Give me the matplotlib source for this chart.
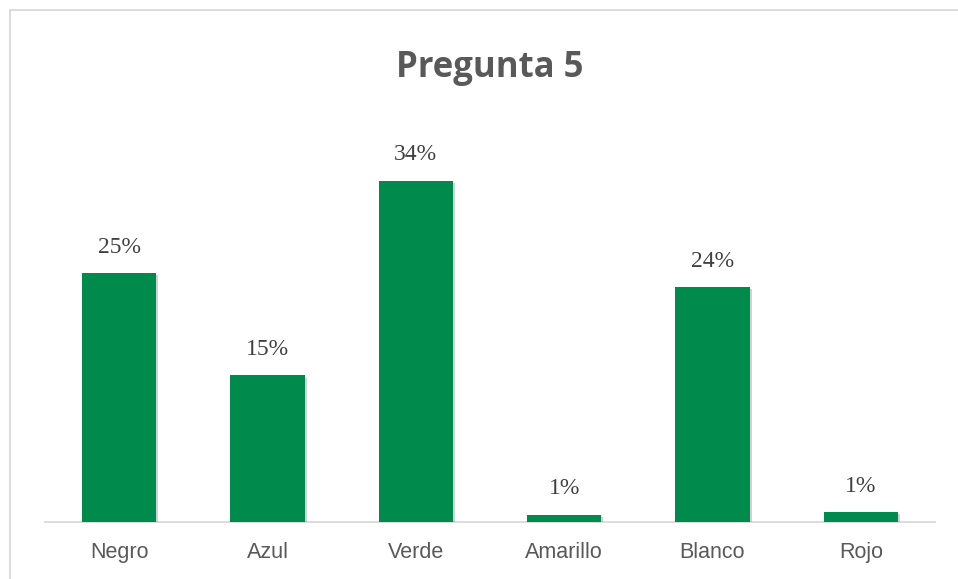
import matplotlib
matplotlib.use("Agg")
import matplotlib.pyplot as plt
import matplotlib.patheffects as pe
from matplotlib.lines import Line2D

categories = ["Negro", "Azul", "Verde", "Amarillo", "Blanco", "Rojo"]
values = [25.0, 14.7, 34.3, 0.7, 23.6, 0.95]
labels = ["25%", "15%", "34%", "1%", "24%", "1%"]
title = "Pregunta 5"

W, H = 958, 579
fig = plt.figure(figsize=(W / 100, H / 100), dpi=100)
fig.patch.set_facecolor("white")

# outer chart frame (top and left visible)
fc = "#d9d9d9"
fig.add_artist(Line2D([9.5 / W, 1.0], [1 - 9.5 / H, 1 - 9.5 / H], color=fc, lw=1.3, transform=fig.transFigure))
fig.add_artist(Line2D([9.5 / W, 9.5 / W], [0.0, 1 - 9.5 / H], color=fc, lw=1.3, transform=fig.transFigure))

left, right = 45 / W, 935 / W
bottom, top = (H - 521.5) / H, (H - 124) / H
ax = fig.add_axes([left, bottom, right - left, top - bottom])
ax.set_facecolor("none")

x = range(len(categories))
bars = ax.bar(x, values, width=0.5, color="#008B4D", zorder=3)
for b in bars:
    b.set_path_effects([pe.SimplePatchShadow(offset=(1.5, -1.5), shadow_rgbFace="#7f7f7f", alpha=0.35), pe.Normal()])

ax.set_xlim(-0.5, len(categories) - 0.5)
ax.set_ylim(0, 40)
ax.set_yticks([])
for s in ["top", "right", "left"]:
    ax.spines[s].set_visible(False)
ax.spines["bottom"].set_color("#d9d9d9")
ax.spines["bottom"].set_linewidth(1.3)
ax.set_xticks(list(x))
ax.set_xticklabels(categories, fontsize=15.5, color="#595959", fontfamily="Liberation Sans")
ax.tick_params(axis="x", length=0, pad=15)

for xi, v, lab in zip(x, values, labels):
    ax.annotate(lab, (xi, v), xytext=(0, 11), textcoords="offset points",
                ha="center", va="bottom", fontsize=17, color="#404040",
                fontfamily="Liberation Serif")

fig.text(490 / W, 1 - 68 / H, title, ha="center", va="center", fontsize=25,
         fontweight="bold", color="#595959", fontfamily="Open Sans")

fig.savefig("out.png", dpi=100)
